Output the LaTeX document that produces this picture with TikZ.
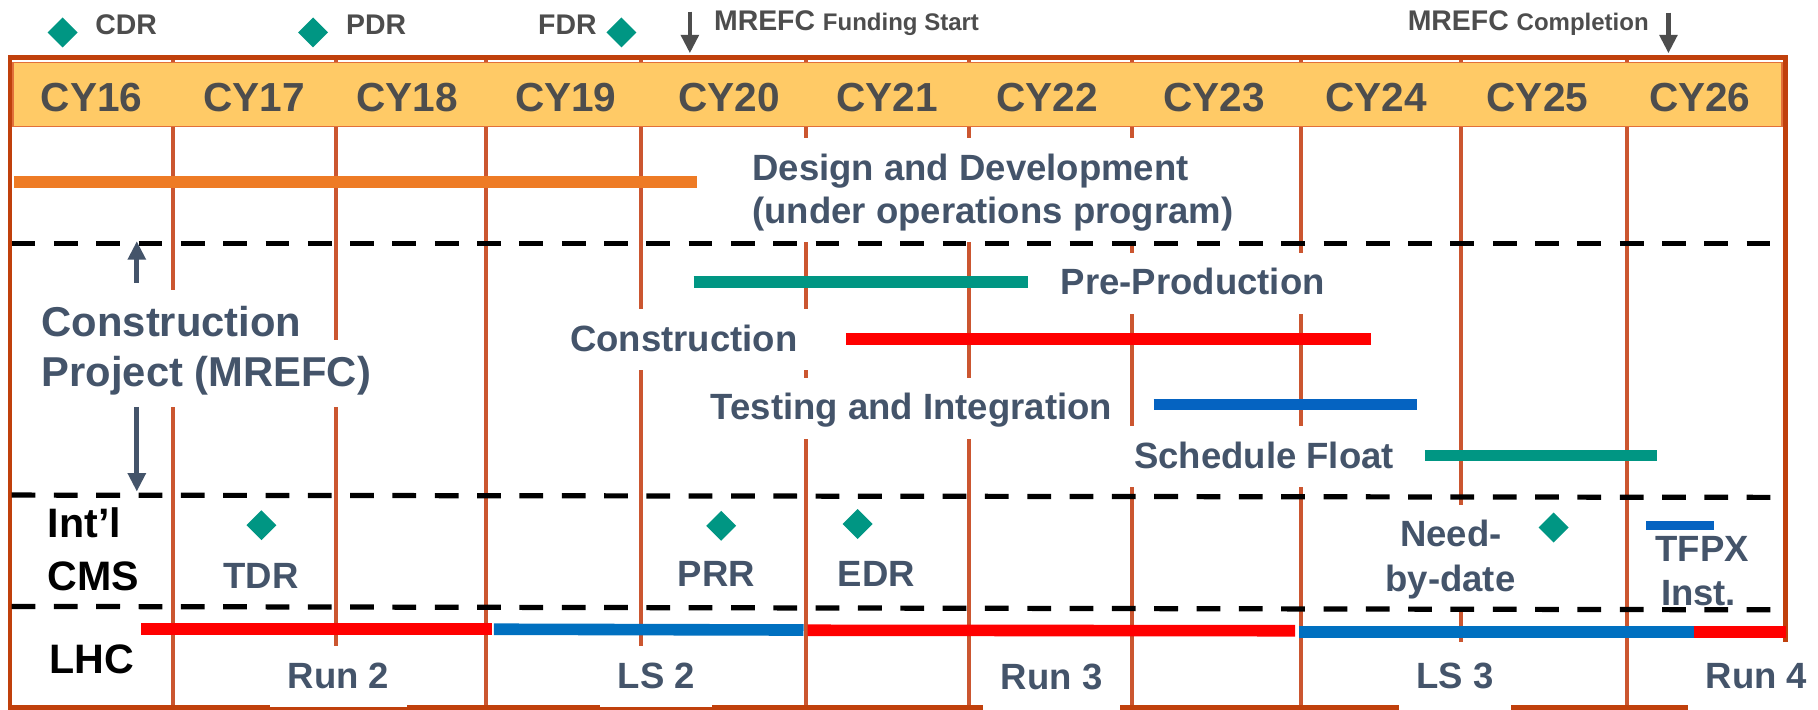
\documentclass[tikz,border=0pt]{standalone}
\usepackage{fontspec}
\setmainfont{Liberation Sans}
\usetikzlibrary{arrows.meta,shapes.geometric}
\definecolor{slate}{HTML}{44546A}
\definecolor{dgray}{HTML}{4D4D4D}
\definecolor{tealg}{HTML}{009683}
\definecolor{framec}{HTML}{C0400C}
\definecolor{sepc}{HTML}{CB5630}
\definecolor{ybar}{HTML}{FFCA66}
\definecolor{ybord}{HTML}{E2703A}
\definecolor{obar}{HTML}{EE7B25}
\definecolor{lhcblue}{HTML}{0070C0}
\definecolor{tblue}{HTML}{0563C1}
\definecolor{redbar}{HTML}{FF0000}
\newcommand{\smalltopfont}{\fontsize{20.7}{24}\selectfont}
\pgfdeclarelayer{grid}
\pgfdeclarelayer{boxes}
\pgfsetlayers{grid,boxes,main}
\begin{document}
\begin{tikzpicture}[x=1pt,y=-1pt,
  lbl/.style={font=\fontsize{31.5}{38}\selectfont\bfseries, text=slate,
    inner xsep=15pt, inner ysep=9pt, text height=27pt, text depth=7pt},
  biglbl/.style={font=\fontsize{36}{43}\selectfont\bfseries, text=slate,
    inner xsep=15pt, inner ysep=9pt, text height=31pt, text depth=8pt, anchor=base west},
  rowlbl/.style={font=\fontsize{35.5}{42}\selectfont\bfseries, text=black, inner sep=0pt, anchor=base west},
  yr/.style={font=\fontsize{35}{40}\selectfont\bfseries, text=dgray, anchor=base, inner sep=0pt},
  toplbl/.style={font=\fontsize{24.5}{28}\selectfont\bfseries, text=dgray, anchor=base west, inner sep=0pt},
  dmd/.style={diamond, fill=tealg, draw=none, inner sep=0pt, minimum width=26pt, minimum height=26pt},
  sepline/.style={draw=sepc, line width=3.5pt},
  dashline/.style={draw=black, line width=4.5pt, dash pattern=on 20.5pt off 16pt},
  barline/.style={line width=10pt, line cap=butt},
  slatearrow/.style={draw=slate, line width=4.5pt, -{Triangle[length=16pt,width=15pt]}},
  grayarrow/.style={draw=dgray, line width=4pt, -{Triangle[length=16pt,width=15pt]}}
]
\useasboundingbox (0,0) rectangle (1568,612);

\begin{pgfonlayer}{grid}
\fill[white] (0,0) rectangle (1568,612);
% vertical separators
\foreach \x in {149,290,419,553,695,836,976,1122,1260,1403}
  \draw[sepline] (\x,49.5) -- (\x,610);
% outer frame
\draw[framec, line width=4pt] (8.5,49.5) rectangle (1540,610);
% year bar
\draw[fill=ybar, draw=ybord, line width=1.5pt] (11,54) rectangle (1537,109);
\end{pgfonlayer}

\node[yr] (y16) at (79,96) {CY16};
\node[yr] (y17) at (219,96) {CY17};
\node[yr] (y18) at (351,96) {CY18};
\node[yr] (y19) at (488,96) {CY19};
\node[yr] (y20) at (629,96) {CY20};
\node[yr] (y21) at (765,96) {CY21};
\node[yr] (y22) at (903,96) {CY22};
\node[yr] (y23) at (1047,96) {CY23};
\node[yr] (y24) at (1187,96) {CY24};
\node[yr] (y25) at (1326,96) {CY25};
\node[yr] (y26) at (1466,96) {CY26};

% labels (white backgrounds are drawn on the boxes layer)
\node[lbl, anchor=base west] (dd1) at (633.8,155.3) {Design and Development};
\node[lbl, anchor=base west] (dd2) at (633.8,192.6) {(under operations program)};
\node[lbl, anchor=base west] (pp) at (899.8,254.4) {Pre-Production};
\node[lbl, anchor=base west] (con) at (476.5,303) {Construction};
\node[lbl, anchor=base west] (ti) at (598,362) {Testing and Integration};
\node[lbl, anchor=base west] (sf) at (963,404) {Schedule Float};
\node[biglbl] (cp1) at (20.8,290) {Construction};
\node[biglbl] (cp2) at (20.8,333.5) {Project (MREFC)};

\node[lbl, anchor=base] (tdr) at (225,507.5) {TDR};
\node[lbl, anchor=base] (prr) at (618,506) {PRR};
\node[lbl, anchor=base] (edr) at (756,506) {EDR};
\node[lbl, anchor=base] (nbd1) at (1251.5,471.5) {Need-};
\node[lbl, anchor=base] (nbd2) at (1251,510) {by-date};
\node[lbl, anchor=base] (tfpx1) at (1468,484.5) {TFPX};
\node[lbl, anchor=base] (tfpx2) at (1465,522) {Inst.};

\node[lbl, anchor=base] (run2) at (292,593.7) {Run 2};
\node[lbl, anchor=base] (ls2) at (566,593.7) {LS 2};
\node[lbl, anchor=base, inner ysep=13pt] (run3) at (907,595) {Run 3};
\node[lbl, anchor=base, inner ysep=13pt] (ls3) at (1255,593.7) {LS 3};
\node[lbl, anchor=base, inner ysep=13pt] (run4) at (1515,594) {Run 4};

\begin{pgfonlayer}{boxes}
\foreach \n in {dd1,dd2,pp,con,ti,sf,cp1,cp2,tdr,prr,edr,nbd1,nbd2,tfpx1,tfpx2,run2,ls2,run3,ls3,run4}
  \fill[white] (\n.south west) rectangle (\n.north east);
\end{pgfonlayer}

\node[rowlbl] (intl) at (41,464) {Int’l};
\node[rowlbl] (cms) at (41,509) {CMS};
\node[rowlbl] (lhc) at (42.6,580.8) {LHC};

% dashed separators
\coordinate (da1) at (10,210);   \coordinate (db1) at (1540,210);
\coordinate (da2) at (10,427);   \coordinate (db2) at (1540,429);
\coordinate (da3) at (10,523);   \coordinate (db3) at (1540,526);
\draw[dashline] (da1) -- (db1);
\draw[dashline] (da2) -- (db2);
\draw[dashline] (da3) -- (db3);

% schedule bars
\draw[barline, obar] (12,157) -- (601,157);
\draw[barline, tealg] (598.3,243.4) -- (886.5,243.4);
\draw[barline, redbar] (729.6,292.5) -- (1182.3,292.5);
\draw[barline, tblue] (995,348.7) -- (1222,348.7);
\draw[barline, tealg] (1229,393) -- (1429,393);
\draw[line width=8pt, tblue] (1420,453.5) -- (1478.5,453.5);

% LHC bars
\draw[barline, redbar] (122,542.7) -- (424,542.7);
\draw[barline, lhcblue] (426,542.7) -- (693,543.4);
\draw[barline, redbar] (696.6,543.6) -- (1117,544);
\draw[barline, lhcblue] (1120.3,545) -- (1460.6,545);
\draw[barline, redbar] (1461,545) -- (1540,545);

% construction project arrows
\coordinate (cpa1) at (118,244);
\coordinate (cpa2) at (118,208);
\coordinate (cpb1) at (118,351);
\coordinate (cpb2) at (118,424);
\draw[slatearrow] (cpa1) -- (cpa2);
\draw[slatearrow] (cpb1) -- (cpb2);

% milestone diamonds
\node[dmd] (dcdr) at (54,28) {};
\node[dmd] (dpdr) at (270,28) {};
\node[dmd] (dfdr) at (536,28) {};
\node[dmd] (dtdr) at (225.5,453) {};
\node[dmd] (dprr) at (622,453.5) {};
\node[dmd] (dedr) at (739.7,452) {};
\node[dmd] (dnbd) at (1340,455) {};

% top labels
\node[toplbl] (cdr) at (82,30) {CDR};
\node[toplbl] (pdr) at (298.4,30) {PDR};
\node[toplbl] (fdr) at (464,30) {FDR};
\node[toplbl] (mfs) at (615.7,26) {MREFC {\smalltopfont Funding Start}};
\node[toplbl] (mcp) at (1214,26.5) {MREFC {\smalltopfont Completion}};
\coordinate (fa1) at (595,10);
\coordinate (fa2) at (595,46);
\coordinate (ca1) at (1439,11);
\coordinate (ca2) at (1439,46);
\draw[grayarrow] (fa1) -- (fa2);
\draw[grayarrow] (ca1) -- (ca2);
\end{tikzpicture}
\end{document}
